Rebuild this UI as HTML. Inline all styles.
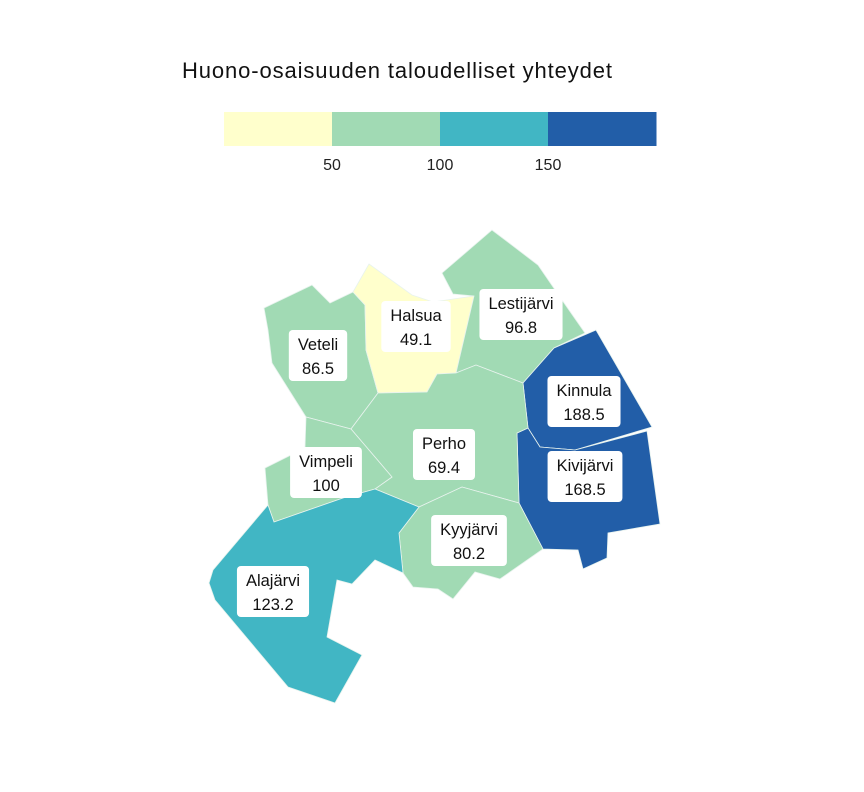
<!DOCTYPE html>
<html><head><meta charset="utf-8">
<style>
html,body{margin:0;padding:0;background:#fff;}
svg{display:block;font-family:"Liberation Sans",sans-serif;}
</style></head>
<body>
<svg id="chart" width="864" height="792" viewBox="0 0 864 792">
<text x="182" y="78" font-size="22" fill="#111" textLength="430" lengthAdjust="spacing">Huono-osaisuuden taloudelliset yhteydet</text>
<g id="legend"></g>
<g id="regions"></g>
<g id="labels"></g>
</svg>
<script>
const names = ["Veteli","Halsua","Lestijärvi","Kinnula","Kivijärvi","Perho","Vimpeli","Kyyjärvi","Alajärvi"];
const values = [86.5,49.1,96.8,188.5,168.5,69.4,100,80.2,123.2];
const legendBreaks = [50,100,150];
const legendTicks = ["50","100","150"];
const colors = ["#ffffcc","#a1dab4","#41b6c4","#225ea8"];
const shapes = [
 "264,308 312,285 330,303 353,292 365,305 366,350 378,393 351,429 306,417 272,363 268,330",
 "353,292 369,264 412,295 433,302 474,296 456,373 437,374 427,392 378,393 366,350 365,305",
 "442,273 492,230 538,265 562,300 585,333 554,348 523,383 476,365 456,373 474,296 453,294",
 "523,383 554,348 596,330 652,427 575,450 540,447 528,428",
 "517,433 528,428 540,447 575,450 647,431 660,524 608,533 607,558 583,569 578,550 543,549 519,503",
 "378,393 427,392 437,374 456,373 476,365 523,383 528,428 517,433 519,503 462,487 419,507 375,489 392,477 351,429",
 "306,417 351,429 392,477 375,489 343,498 274,522 268,505 265,468 291,455 305,447",
 "419,507 462,487 519,503 543,549 500,579 475,572 453,599 438,589 413,587 403,573 399,533",
 "268,505 274,522 343,498 375,489 419,507 399,533 403,573 375,560 352,584 337,580 327,637 362,655 335,703 288,687 215,600 209,583 213,570"
];
const labelPos = [[318,356],[416,327],[521,315],[584,402],[585,477],[444,455],[326,473],[469,541],[273,592]];
const NS="http://www.w3.org/2000/svg";
function colorOf(v){for(let i=0;i<legendBreaks.length;i++){if(v<=legendBreaks[i])return colors[i];}return colors[colors.length-1];}
const lg=document.getElementById('legend');
const lx0=224,lw=108;
colors.forEach((c,i)=>{const r=document.createElementNS(NS,'rect');
r.setAttribute('x',lx0+i*lw);r.setAttribute('y',112);r.setAttribute('width',lw+0.5);r.setAttribute('height',34);r.setAttribute('fill',c);


lg.appendChild(r);});
legendTicks.forEach((t,i)=>{const tx=document.createElementNS(NS,'text');
tx.setAttribute('x',lx0+(i+1)*lw);tx.setAttribute('y',170);tx.setAttribute('text-anchor','middle');tx.setAttribute('font-size','16');tx.setAttribute('fill','#222');tx.textContent=t;


lg.appendChild(tx);});
const rg=document.getElementById('regions'),lb=document.getElementById('labels');
names.forEach((n,i)=>{const p=document.createElementNS(NS,'polygon');
p.setAttribute('points',shapes[i]);p.setAttribute('fill',colorOf(values[i]));p.setAttribute('stroke','#e8f3ee');p.setAttribute('stroke-width','0.8');


rg.appendChild(p);});
names.forEach((n,i)=>{const [cx,cy]=labelPos[i];
const g=document.createElementNS(NS,'g');


const t1=document.createElementNS(NS,'text');t1.setAttribute('x',cx);t1.setAttribute('y',cy-6);t1.setAttribute('text-anchor','middle');t1.setAttribute('font-size','16.5');t1.setAttribute('fill','#111');t1.textContent=n;
const t2=document.createElementNS(NS,'text');t2.setAttribute('x',cx);t2.setAttribute('y',cy+18);t2.setAttribute('text-anchor','middle');t2.setAttribute('font-size','16.5');t2.setAttribute('fill','#111');t2.textContent=String(values[i]);
const r=document.createElementNS(NS,'rect');
g.appendChild(r);g.appendChild(t1);g.appendChild(t2);lb.appendChild(g);
const w=Math.max(t1.getComputedTextLength(),t2.getComputedTextLength())+18;
r.setAttribute('x',cx-w/2);r.setAttribute('y',cy-26);r.setAttribute('width',w);r.setAttribute('height',51);r.setAttribute('rx',4);r.setAttribute('fill','#fff');
});
</script>
</body></html>
